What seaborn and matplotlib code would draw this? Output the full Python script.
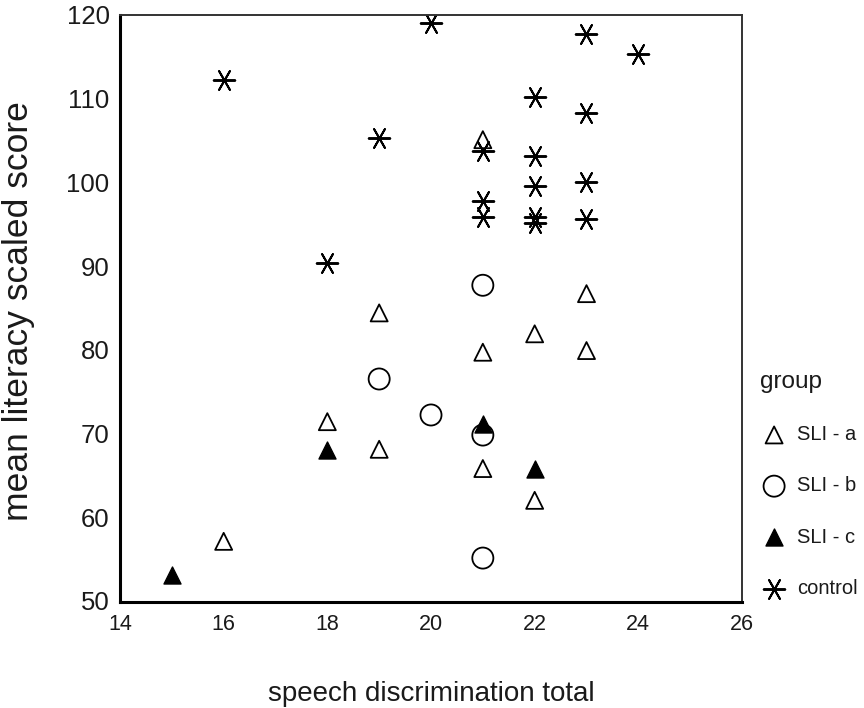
import matplotlib
matplotlib.use("Agg")
import matplotlib.pyplot as plt
import seaborn as sns
import pandas as pd

# ---- data ----
groups = ["SLI - a", "SLI - b", "SLI - c", "control"]

sli_a_x = [16, 18, 19, 19, 21, 21, 21, 22, 22, 23, 23]
sli_a_y = [57.1, 71.4, 84.4, 68.1, 105.1, 79.7, 65.8, 81.9, 62.0, 86.7, 79.9]

sli_b_x = [19, 20, 21, 21, 21]
sli_b_y = [76.5, 72.2, 87.7, 69.8, 55.1]

sli_c_x = [15, 18, 21, 22]
sli_c_y = [53.1, 68.0, 71.1, 65.8]

control_x = [16, 18, 19, 20, 21, 21, 21, 22, 22, 22, 22, 22, 23, 23, 23, 23, 24]
control_y = [112.2, 90.4, 105.3, 119.0, 103.8, 97.8, 95.9, 110.2, 103.2, 99.6,
             95.9, 95.2, 117.7, 108.3, 100.0, 95.6, 115.3]

x_ticks = [14, 16, 18, 20, 22, 24, 26]
y_ticks = [50, 60, 70, 80, 90, 100, 110, 120]

df = pd.concat([
    pd.DataFrame({"speech": sli_a_x, "literacy": sli_a_y, "group": groups[0]}),
    pd.DataFrame({"speech": sli_b_x, "literacy": sli_b_y, "group": groups[1]}),
    pd.DataFrame({"speech": sli_c_x, "literacy": sli_c_y, "group": groups[2]}),
    pd.DataFrame({"speech": control_x, "literacy": control_y, "group": groups[3]}),
], ignore_index=True)

sns.set_style("white")
plt.rcParams["font.family"] = ["Liberation Sans", "DejaVu Sans"]

W, H = 864, 708
fig = plt.figure(figsize=(W / 100, H / 100), dpi=100)
ax = fig.add_axes([120 / W, 1 - 602 / H, 622 / W, 587 / H])

styles = {
    "SLI - a": dict(marker="^", s=150, facecolors="none", edgecolors="black", linewidths=1.3),
    "SLI - b": dict(marker="o", s=230, facecolors="none", edgecolors="black", linewidths=1.3),
    "SLI - c": dict(marker="^", s=150, facecolors="black", edgecolors="black", linewidths=1.0),
    "control": dict(marker=(6, 2, 90), s=240, facecolors="black", linewidths=1.4),
}

for g in groups:
    sub = df[df["group"] == g]
    sns.scatterplot(data=sub, x="speech", y="literacy", ax=ax, label=g, **styles[g])

ax.set_xlim(14, 26)
ax.set_ylim(49.85, 120)
ax.set_xticks(x_ticks)
ax.set_yticks(y_ticks)
ax.tick_params(axis="x", direction="out", length=3.5, width=2.5, pad=5, labelsize=15.5, colors="black",
               labelcolor="#1a1a1a")
ax.tick_params(axis="y", direction="out", length=3.5, width=2.5, pad=4, labelsize=18.5, colors="black",
               labelcolor="#1a1a1a")

for side in ["left", "bottom"]:
    ax.spines[side].set_linewidth(2.2)
    ax.spines[side].set_color("black")
for side in ["top", "right"]:
    ax.spines[side].set_linewidth(1.4)
    ax.spines[side].set_color("#333333")
    ax.spines[side].set_visible(True)

ax.set_xlabel("speech discrimination total", fontsize=20, color="#1a1a1a", labelpad=33)
ax.set_ylabel("mean literacy scaled score", fontsize=25.5, color="#1a1a1a")
ax.yaxis.set_label_coords((35 - 120) / 622, 0.495)

leg = ax.legend(title="group", loc="upper left", bbox_to_anchor=(760 / W, 1 - 371 / H),
                bbox_transform=fig.transFigure, frameon=False, fontsize=14.5,
                title_fontsize=17.5, borderpad=0, labelspacing=1.6, handletextpad=0.45,
                handlelength=1.4, alignment="left", borderaxespad=0)
for t in leg.get_texts():
    t.set_color("#1a1a1a")
leg.get_title().set_color("#1a1a1a")

fig.savefig("out.png", dpi=100)
